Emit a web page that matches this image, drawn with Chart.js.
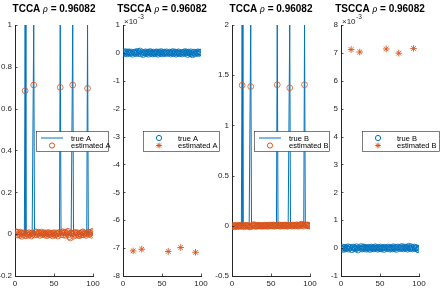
<!DOCTYPE html>
<html>
<head>
<meta charset="utf-8">
<script src="https://cdn.jsdelivr.net/npm/chart.js@4.4.1/dist/chart.umd.min.js"></script>
<style>
  html, body { margin: 0; padding: 0; background: #fff; }
  #wrap { position: relative; width: 443px; height: 293px; overflow: hidden; background: #fff; }
  #wrap canvas { position: absolute; left: 0; top: 0; }
</style>
</head>
<body>
<div id="wrap">
  <canvas id="p1" width="443" height="293"></canvas>
  <canvas id="p2" width="443" height="293"></canvas>
  <canvas id="p3" width="443" height="293"></canvas>
  <canvas id="p4" width="443" height="293"></canvas>
</div>
<script>
// ---- data --------------------------------------------------------------
const titles = ['TCCA', 'TSCCA', 'TCCA', 'TSCCA'];
const rhoValue = '0.96082';

const xTicks = [0, 50, 100];
const xLabels = ['0', '50', '100'];

const yTicks1 = [-0.2, 0, 0.2, 0.4, 0.6, 0.8, 1];
const yLabels1 = ['-0.2', '0', '0.2', '0.4', '0.6', '0.8', '1'];
const yTicks2 = [-8, -7, -6, -5, -4, -3, -2, -1, 0, 1];
const yLabels2 = ['-8', '-7', '-6', '-5', '-4', '-3', '-2', '-1', '0', '1'];
const yTicks3 = [-0.5, 0, 0.5, 1, 1.5, 2];
const yLabels3 = ['-0.5', '0', '0.5', '1', '1.5', '2'];
const yTicks4 = [-1, 0, 1, 2, 3, 4, 5, 6, 7, 8];
const yLabels4 = ['-1', '0', '1', '2', '3', '4', '5', '6', '7', '8'];

// TCCA, true A (line)
const tccaTrueA = [
  0, 0, 0, 0, 0, 0, 0, 0, 0, 0,
  0, 0, 1, 0, 0, 0, 0, 0, 0, 0,
  0, 0, 0, 1, 0, 0, 0, 0, 0, 0,
  0, 0, 0, 0, 0, 0, 0, 0, 0, 0,
  0, 0, 0, 0, 0, 0, 0, 0, 0, 0,
  0, 0, 0, 0, 0, 0, 0, 1, 0, 0,
  0, 0, 0, 0, 0, 0, 0, 0, 0, 0,
  0, 0, 0, 1, 0, 0, 0, 0, 0, 0,
  0, 0, 0, 0, 0, 0, 0, 0, 0, 0,
  0, 0, 1, 0, 0, 0, 0, 0, 0, 0
];
// TCCA, estimated A (circles)
const tccaEstA = [
  0.012, 0.008, -0.004, 0.010, 0.003, -0.006, 0.009, 0.002, -0.010, 0.006,
  -0.003, 0.005, 0.686, -0.008, 0.004, 0.001, -0.005, 0.007, -0.002, 0.003,
  -0.009, 0.006, 0.000, 0.713, -0.004, 0.008, 0.011, -0.003, 0.002, 0.009,
  0.005, -0.006, 0.004, 0.010, -0.002, 0.003, 0.007, -0.004, 0.001, 0.006,
  -0.007, 0.002, 0.008, -0.003, 0.005, -0.001, 0.004, -0.008, 0.003, 0.007,
  -0.005, -0.002, 0.006, 0.001, -0.009, 0.004, 0.009, 0.702, -0.003, 0.007,
  0.012, -0.004, 0.005, 0.010, -0.006, 0.003, 0.008, 0.014, -0.002, -0.012,
  -0.018, 0.006, 0.002, 0.713, -0.010, 0.004, 0.009, -0.005, 0.003, 0.007,
  -0.002, -0.008, 0.005, 0.001, -0.004, 0.008, 0.011, -0.003, 0.006, 0.002,
  -0.006, 0.004, 0.697, 0.010, -0.001, 0.007, 0.003, -0.005, 0.008, 0.015
];

// TSCCA, true A (circles, x 1e-3)
const tsccaTrueA = [
  0.02, -0.03, 0.05, 0.01, -0.04, 0.03, -0.01, 0.04, 0.00, -0.02,
  0.03, -0.05, null, 0.02, -0.01, 0.04, -0.03, 0.01, 0.06, -0.02,
  0.03, 0.07, -0.04, null, 0.01, -0.06, 0.02, -0.01, 0.04, -0.03,
  0.00, 0.03, -0.05, 0.02, 0.05, -0.02, 0.01, -0.04, 0.03, 0.00,
  -0.03, 0.02, 0.04, -0.01, -0.05, 0.03, 0.01, -0.02, 0.05, -0.04,
  0.02, -0.01, 0.03, -0.03, 0.01, 0.04, -0.02, null, 0.00, 0.03,
  -0.04, 0.02, -0.01, 0.05, -0.03, 0.01, 0.03, -0.05, 0.02, -0.02,
  0.04, 0.00, -0.03, null, 0.02, -0.04, 0.01, 0.03, -0.02, 0.05,
  -0.01, 0.02, -0.06, 0.03, 0.00, -0.03, 0.04, -0.02, -0.07, 0.01,
  0.03, -0.04, null, 0.02, -0.01, 0.04, -0.03, 0.01, 0.03, 0.02
];
// TSCCA, estimated A (asterisks, x 1e-3), at the support indices
const supportIdx = [13, 24, 58, 74, 93];
const tsccaEstA = [-7.10, -7.04, -7.12, -6.98, -7.15];

// TCCA, true B (line)
const tccaTrueB = [
  0, 0, 0, 0, 0, 0, 0, 0, 0, 0,
  0, 0, 2, 0, 0, 0, 0, 0, 0, 0,
  0, 0, 0, 2, 0, 0, 0, 0, 0, 0,
  0, 0, 0, 0, 0, 0, 0, 0, 0, 0,
  0, 0, 0, 0, 0, 0, 0, 0, 0, 0,
  0, 0, 0, 0, 0, 0, 0, 2, 0, 0,
  0, 0, 0, 0, 0, 0, 0, 0, 0, 0,
  0, 0, 0, 2, 0, 0, 0, 0, 0, 0,
  0, 0, 0, 0, 0, 0, 0, 0, 0, 0,
  0, 0, 2, 0, 0, 0, 0, 0, 0, 0
];
// TCCA, estimated B (circles)
const tccaEstB = [
  -0.006, 0.004, -0.010, 0.002, -0.004, 0.006, -0.008, 0.001, -0.003, 0.005,
  -0.007, 0.003, 1.400, -0.005, 0.002, -0.009, 0.004, -0.002, 0.006, -0.004,
  0.001, -0.006, -0.012, 1.387, 0.003, -0.005, 0.007, 0.012, -0.002, 0.004,
  -0.007, 0.002, 0.005, -0.003, 0.006, -0.001, 0.003, -0.006, 0.004, 0.001,
  -0.004, 0.007, -0.002, 0.005, 0.002, -0.006, 0.003, 0.008, -0.001, 0.004,
  0.006, -0.003, 0.009, 0.002, -0.005, 0.004, 0.007, 1.405, 0.003, -0.002,
  0.008, -0.004, 0.005, 0.001, 0.006, -0.003, 0.004, 0.009, -0.001, 0.005,
  -0.006, 0.003, 0.007, 1.375, 0.002, 0.006, -0.004, 0.008, 0.003, 0.005,
  -0.002, 0.007, 0.010, 0.001, -0.005, 0.006, 0.004, 0.013, 0.016, 0.002,
  0.008, -0.003, 1.405, 0.011, 0.006, 0.004, 0.009, -0.002, 0.005, -0.004
];

// TSCCA, true B (circles, x 1e-3)
const tsccaTrueB = [
  -0.02, 0.04, -0.05, 0.01, 0.03, -0.03, 0.02, -0.01, 0.05, -0.04,
  0.01, 0.03, null, -0.06, 0.02, 0.04, -0.02, 0.01, -0.03, 0.05,
  0.00, -0.07, 0.02, null, -0.01, 0.06, -0.03, 0.01, 0.04, -0.02,
  0.03, 0.00, -0.04, 0.02, -0.01, 0.03, -0.05, 0.01, 0.04, -0.02,
  0.02, -0.03, 0.01, 0.05, -0.01, 0.02, -0.04, 0.03, 0.00, -0.02,
  0.04, -0.03, 0.01, 0.02, -0.05, 0.03, 0.01, null, -0.02, 0.04,
  -0.01, 0.03, -0.04, 0.00, 0.02, -0.03, 0.05, 0.01, -0.02, 0.03,
  -0.05, 0.02, 0.04, null, -0.01, 0.03, -0.02, 0.06, 0.01, -0.03,
  0.02, 0.04, -0.01, 0.03, -0.04, 0.02, 0.07, 0.00, -0.02, 0.05,
  0.01, -0.03, null, 0.04, -0.02, 0.02, 0.01, -0.04, -0.06, 0.00
];
// TSCCA, estimated B (asterisks, x 1e-3)
const tsccaEstB = [7.12, 7.03, 7.14, 6.99, 7.16];

// ---- styling -----------------------------------------------------------
const mBlue = '#0072BD';
const mOrange = '#D95319';
const axisColor = '#262626';
const FONT = '"Liberation Sans", Arial, Helvetica, sans-serif';

Chart.defaults.font.family = FONT;
Chart.defaults.font.size = 8;
Chart.defaults.color = axisColor;

const W = 443, H = 293;
const plotTop = 25, plotBottom = 276;
const plotLeft = [15, 123, 232, 341];
const plotWidth = 78;
const legendBox = [
  { x: 36, w: 72 }, { x: 143, w: 76 }, { x: 254, w: 75 }, { x: 362, w: 77 }
];

function toXY(xs, ys) {
  const pts = [];
  xs.forEach((x, i) => { if (ys[i] !== null) pts.push({ x: x, y: ys[i] }); });
  return pts;
}
const idx = tccaTrueA.map((_, i) => i + 1);

// inward ticks, title, legend and exponent label (MATLAB look)
const decoPlugin = {
  id: 'deco',
  afterDraw(chart, args, opts) {
    const { ctx, chartArea: a, scales } = chart;
    ctx.save();
    ctx.strokeStyle = axisColor;
    ctx.lineWidth = 0.8;
    ctx.beginPath();
    xTicks.forEach(v => {
      const px = Math.round(scales.x.getPixelForValue(v)) + 0.5;
      ctx.moveTo(px, a.bottom); ctx.lineTo(px, a.bottom - 2.5);
    });
    opts.yTicks.forEach(v => {
      const py = Math.round(scales.y.getPixelForValue(v)) + 0.5;
      ctx.moveTo(a.left, py); ctx.lineTo(a.left + 2.5, py);
    });
    ctx.stroke();

    // title: "<name> ρ = 0.96082"
    const parts = [
      [opts.title + ' ', 'bold 10px ' + FONT],
      ['\u03C1', 'italic 10px "Liberation Serif", serif'],
      [' = ' + rhoValue, 'bold 10px ' + FONT]
    ];
    let total = 0;
    parts.forEach(p => { ctx.font = p[1]; total += ctx.measureText(p[0]).width; });
    let tx = (a.left + a.right) / 2 - total / 2;
    ctx.fillStyle = '#000';
    ctx.textBaseline = 'alphabetic';
    ctx.textAlign = 'left';
    parts.forEach(p => {
      ctx.font = p[1];
      ctx.fillText(p[0], tx, 11.5);
      tx += ctx.measureText(p[0]).width;
    });

    // exponent label
    if (opts.exponent) {
      ctx.fillStyle = axisColor;
      ctx.font = '8px ' + FONT;
      ctx.fillText('\u00D710', a.left + 1, 23.5);
      const w = ctx.measureText('\u00D710').width;
      ctx.font = '6.5px ' + FONT;
      ctx.fillText('-3', a.left + 1.5 + w, 19);
    }

    // legend
    const lb = opts.legend;
    const top = 131.5, h = 20;
    ctx.fillStyle = '#fff';
    ctx.fillRect(lb.x, top, lb.w, h);
    ctx.strokeStyle = axisColor;
    ctx.lineWidth = 0.6;
    ctx.strokeRect(lb.x + 0.5, top, lb.w, h);
    ctx.font = '7.5px ' + FONT;
    ctx.textBaseline = 'middle';
    lb.entries.forEach((e, i) => {
      const cy = top + 6.5 + i * 7.5;
      const cx = lb.x + 16;
      ctx.strokeStyle = e.color;
      ctx.lineWidth = 1;
      ctx.beginPath();
      if (e.kind === 'line') {
        ctx.moveTo(lb.x + 5, cy); ctx.lineTo(lb.x + 27, cy);
      } else if (e.kind === 'circle') {
        ctx.arc(cx, cy, 2.6, 0, Math.PI * 2);
      } else {
        const r = 2.8;
        for (let k = 0; k < 4; k++) {
          const ang = k * Math.PI / 4;
          ctx.moveTo(cx - r * Math.cos(ang), cy - r * Math.sin(ang));
          ctx.lineTo(cx + r * Math.cos(ang), cy + r * Math.sin(ang));
        }
      }
      ctx.stroke();
      ctx.fillStyle = '#000';
      ctx.fillText(e.label, lb.x + 35, cy + 0.5);
    });
    ctx.restore();
  }
};

function makePanel(k, datasets, yMin, yMax, yTicks, yLabels, legendEntries, exponent) {
  const left = plotLeft[k];
  const yW = Math.min(40, left);
  new Chart(document.getElementById('p' + (k + 1)), {
    type: 'scatter',
    data: { datasets: datasets },
    options: {
      responsive: false,
      animation: false,
      devicePixelRatio: 1,
      events: [],
      layout: { padding: { left: left - yW, right: W - left - plotWidth, top: plotTop, bottom: 0 } },
      plugins: {
        legend: { display: false },
        tooltip: { enabled: false },
        deco: {
          title: titles[k], yTicks: yTicks, exponent: exponent,
          legend: { x: legendBox[k].x, w: legendBox[k].w, entries: legendEntries }
        }
      },
      scales: {
        x: {
          type: 'linear', min: 0, max: 100,
          afterBuildTicks: s => { s.ticks = xTicks.map(v => ({ value: v })); },
          afterFit: s => { s.height = H - plotBottom; },
          ticks: { callback: (v, i) => xLabels[i], padding: 3, maxRotation: 0, color: axisColor },
          grid: { display: false, drawTicks: false },
          border: { display: true, color: axisColor, width: 1 }
        },
        y: {
          type: 'linear', min: yMin, max: yMax,
          afterBuildTicks: s => { s.ticks = yTicks.map(v => ({ value: v })); },
          afterFit: s => { s.width = yW; },
          ticks: { callback: (v, i) => yLabels[i], padding: 3, color: axisColor },
          grid: { display: false, drawTicks: false },
          border: { display: true, color: axisColor, width: 1 }
        }
      }
    },
    plugins: [decoPlugin]
  });
}

function lineSet(label, ys) {
  return { label: label, data: toXY(idx, ys), showLine: true, pointRadius: 0,
           borderColor: mBlue, borderWidth: 1, order: 2 };
}
function circleSet(label, xs, ys, color, order) {
  return { label: label, data: toXY(xs, ys), pointStyle: 'circle', pointRadius: 2.9,
           borderColor: color, backgroundColor: 'rgba(0,0,0,0)', borderWidth: 0.8, order: order };
}
function starSet(label, xs, ys) {
  return { label: label, data: toXY(xs, ys), pointStyle: 'star', pointRadius: 3.3,
           borderColor: mOrange, backgroundColor: mOrange, borderWidth: 0.9, order: 1 };
}

makePanel(0,
  [lineSet('true A', tccaTrueA), circleSet('estimated A', idx, tccaEstA, mOrange, 1)],
  -0.2, 1, yTicks1, yLabels1,
  [{ label: 'true A', kind: 'line', color: mBlue }, { label: 'estimated A', kind: 'circle', color: mOrange }],
  false);

makePanel(1,
  [circleSet('true A', idx, tsccaTrueA, mBlue, 2), starSet('estimated A', supportIdx, tsccaEstA)],
  -8, 1, yTicks2, yLabels2,
  [{ label: 'true A', kind: 'circle', color: mBlue }, { label: 'estimated A', kind: 'star', color: mOrange }],
  true);

makePanel(2,
  [lineSet('true B', tccaTrueB), circleSet('estimated B', idx, tccaEstB, mOrange, 1)],
  -0.5, 2, yTicks3, yLabels3,
  [{ label: 'true B', kind: 'line', color: mBlue }, { label: 'estimated B', kind: 'circle', color: mOrange }],
  false);

makePanel(3,
  [circleSet('true B', idx, tsccaTrueB, mBlue, 2), starSet('estimated B', supportIdx, tsccaEstB)],
  -1, 8, yTicks4, yLabels4,
  [{ label: 'true B', kind: 'circle', color: mBlue }, { label: 'estimated B', kind: 'star', color: mOrange }],
  true);
</script>
</body>
</html>
